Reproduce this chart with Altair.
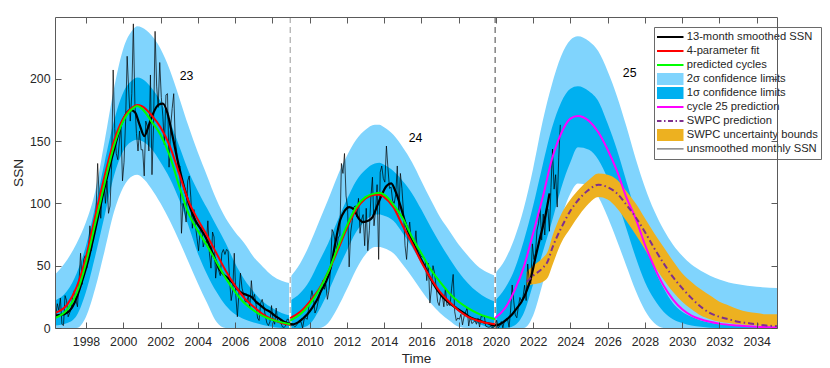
import altair as alt
import pandas as pd

FONT = "Liberation Sans"
TXT = "#262626"
LIGHT = "#80D4FD"
DARK = "#00B0F0"
ORANGE = "#EDB120"
PURPLE = "#7E2F8E"
RED = "#FF0000"
GREEN = "#00FF00"
MAGENTA = "#FF00FF"

W, H = 722, 311
X_DOMAIN = [1996.336, 2035.09]
Y_DOMAIN = [0, 249.5]
x_ticks = list(range(1998, 2035, 2))
y_ticks = [0, 50, 100, 150, 200]

cycle_minima = [2008.96, 2019.96]

# ---------------- cycle 23 ----------------
c23_t = [1996.336, 1997.0, 1997.5, 1998.0, 1998.5, 1999.0, 1999.5, 2000.0, 2000.5, 2000.75,
         2001.0, 2001.5, 2002.0, 2002.5, 2003.0, 2003.5, 2004.0, 2004.5, 2005.0, 2005.5,
         2006.0, 2006.5, 2007.0, 2007.5, 2008.0, 2008.5, 2008.96]
c23_hi2 = [43, 55, 68, 85, 110, 150, 192, 224, 239, 242, 241, 235, 224, 207, 185, 162, 141,
           122, 103, 88, 77, 68, 57, 49, 42, 38, 36]
c23_hi1 = [22, 30, 44, 66, 98, 133, 166, 189, 199, 201, 200, 193, 182, 166, 146, 126, 110,
           96, 82, 68, 52, 39, 29, 21, 16, 12, 10]
c23_lo1 = [2, 4, 10, 29, 58, 90, 122, 142, 150, 151, 150, 144, 133, 120, 103, 82, 60, 43,
           29, 18, 11, 7, 4.5, 2.5, 1, 0, 0]
c23_lo2 = [0, 0, 0, 9, 32, 62, 93, 113, 122, 123, 121, 112, 100, 86, 70, 53, 36, 20, 5,
           0, 0, 0, 0, 0, 0, 0, 0]
c23_pred = [8, 15, 28, 52, 84, 116, 146, 166, 176, 178, 176, 166, 155, 138, 114, 92, 78,
            66, 53, 40, 29, 20, 14, 9.5, 6.5, 4.5, 3]
c23_fit = [12, 19, 33, 57, 90, 122, 150, 168, 177, 179, 178, 171, 161, 146, 124, 102, 87,
           74, 60, 46, 34, 24, 17, 11, 7, 4, 2.5]

# ---------------- cycle 24 ----------------
c24_t = [2008.96, 2009.5, 2010.0, 2010.5, 2011.0, 2011.5, 2012.0, 2012.5, 2013.0, 2013.5,
         2013.75, 2014.0, 2014.5, 2015.0, 2015.5, 2016.0, 2016.5, 2017.0, 2017.5, 2018.0,
         2018.5, 2019.0, 2019.5, 2019.96]
c24_hi2 = [41, 52, 67, 85, 103, 122, 138, 151, 159, 163, 163, 161, 155, 145, 133, 118, 103,
           89, 78, 67, 58, 50, 45, 42]
c24_hi1 = [22, 28, 38, 53, 68, 86, 103, 118, 127, 132, 132.5, 131, 126, 118, 108, 95, 81,
           68, 56, 45, 36, 29, 24, 21]
c24_lo1 = [0, 0, 3, 14, 29, 46, 62, 77, 86, 91, 91, 90, 86, 76, 65, 52, 40, 29, 20, 13, 8,
           4, 1, 0]
c24_lo2 = [0, 0, 0, 0, 4, 16, 31, 47, 59, 65, 65, 64, 60, 51, 41, 30, 20, 12, 6, 1, 0, 0,
           0, 0]
c24_pred = [6, 11, 19, 30, 45, 64, 82, 97, 105, 108, 108.5, 107, 99, 88, 73, 60, 47, 37, 28,
            21, 16, 12, 9, 7]
c24_fit = [8, 13, 21, 31, 45, 62, 80, 95, 104, 107, 107, 105, 97, 82, 68, 53, 40, 29, 21,
           14, 9, 6, 4, 3]

# ---------------- cycle 25 ----------------
c25_t = [2019.96, 2020.5, 2021.0, 2021.5, 2022.0, 2022.5, 2023.0, 2023.5, 2024.0, 2024.4,
         2025.0, 2025.5, 2026.0, 2026.5, 2027.0, 2027.5, 2028.0, 2028.5, 2029.0, 2029.5,
         2030.0, 2030.5, 2031.0, 2032.0, 2033.0, 2034.0, 2035.09]
c25_hi2 = [44, 55, 72, 96, 128, 165, 195, 218, 231, 234, 230, 222, 206, 186, 162, 136, 113,
           94, 79, 67, 58, 51, 46, 39, 35, 33, 32]
c25_hi1 = [22, 32, 47, 70, 98, 130, 160, 181, 192, 194, 190, 182, 164, 143, 118, 93, 70,
           48, 32, 20, 13, 9, 6, 3, 2, 1.5, 1]
c25_lo1 = [0, 0, 2, 12, 35, 60, 85, 112, 133, 145, 143, 135, 120, 102, 80, 57, 37, 23, 13,
           7, 4, 2, 1, 0, 0, 0, 0]
c25_lo2 = [0, 0, 0, 0, 10, 35, 62, 88, 108, 116, 114, 105, 89, 70, 50, 30, 14, 4, 0, 0, 0,
           0, 0, 0, 0, 0, 0]
c25_pred = [8, 16, 30, 49, 76, 104, 135, 156, 168, 170, 166, 157, 143, 126, 105, 88, 67, 49,
            34, 23, 15, 10, 7, 3.5, 2, 1, 0.5]

# ---------------- SWPC ----------------
swpc_t = [2021.65, 2022.0, 2022.5, 2022.8, 2023.0, 2023.5, 2024.0, 2024.5, 2025.0, 2025.5,
          2026.0, 2026.5, 2027.0, 2027.5, 2028.0, 2028.5, 2029.0, 2029.5, 2030.0, 2030.5,
          2031.0, 2031.5, 2032.0, 2032.5, 2033.0, 2033.5, 2034.0, 2034.5, 2035.09]
swpc_pred = [37, 42, 48, 54, 63, 80, 94, 104, 111, 115, 113, 108, 99, 89, 77, 64, 52, 41,
             32, 24, 17, 12, 9, 7, 5, 4, 3, 2, 1.5]
swpc_hi = [45, 50, 56, 62, 72, 91, 103, 112, 119, 124, 123, 119, 110, 100, 88, 76, 65, 54,
           44, 37, 31, 26, 21, 18, 15, 13, 12, 11, 11]
swpc_lo = [34, 35, 37, 41, 49, 68, 80, 91, 100, 105, 103, 96, 86, 75, 63, 50, 39, 29, 21,
           15, 10, 7, 5, 4, 3, 2.5, 2, 1.5, 1]

# ---------------- observed SSN ----------------
# 13-month smoothed, quarterly samples starting 1996.38
smoothed_ssn = [
    10, 10.5, 11.5,
    14, 20, 30, 42,
    55, 71, 88, 105,
    121, 136, 150, 163,
    171, 175, 173, 163,
    154, 163, 173, 179,
    180, 172, 155, 137,
    121, 107, 95, 86,
    80, 74, 66, 57,
    48, 43, 40, 36,
    31, 28, 26.5, 25,
    21, 18, 15, 13,
    10, 7.5, 5, 3.5,
    3, 4.5, 7.5, 11,
    16, 22, 30, 37,
    48, 68, 86, 94,
    97, 95, 88, 85,
    86, 89, 98, 107,
    114, 116, 109, 98,
    85, 74, 66, 58,
    51, 43, 36, 30,
    25, 21.5, 18.5, 16,
    13.5, 11, 8.5, 7,
    6, 4.5, 3.5, 2,
    2.5, 4.5, 7.5, 11,
    16, 21, 29, 40,
    57, 73, 88, 108,
]
smoothed_t = [1996.38 + 0.25 * i for i in range(len(smoothed_ssn))]

# unsmoothed monthly mean SSN, starting May 1996
monthly_ssn = [
    9.2, 19.5, 14.2, 24.0, 3.0, 2.0, 26.0, 22.0,
    9.0, 12.0, 16.0, 26.0, 30.0, 22.0, 17.0, 37.0, 60.0, 35.0, 55.0, 58.0,
    48.0, 60.0, 82.0, 62.0, 76.0, 80.0, 95.0, 132.0, 105.0, 88.0, 110.0, 118.0,
    100.0, 118.0, 92.0, 98.0, 130.0, 207.0, 160.0, 140.0, 135.0, 150.0, 162.0, 118.0,
    133.0, 166.0, 218.0, 191.0, 166.0, 188.0, 244.0, 180.0, 156.0, 142.0, 158.0, 143.0,
    143.0, 122.0, 166.0, 162.0, 142.0, 203.0, 123.0, 162.0, 238.0, 194.0, 177.0, 213.0,
    185.0, 170.0, 147.0, 187.0, 188.0, 129.0, 161.0, 176.0, 188.0, 151.0, 140.0, 125.0,
    130.0, 76.0, 100.0, 95.0, 85.0, 118.0, 122.0, 105.0, 80.0, 95.0, 82.0, 72.0,
    62.0, 78.0, 82.0, 65.0, 70.0, 68.0, 86.0, 60.0, 48.0, 77.0, 73.0, 40.0,
    52.0, 46.0, 42.0, 60.0, 63.0, 59.0, 63.0, 62.0, 38.0, 22.0, 30.0, 60.0,
    26.0, 9.0, 28.0, 44.0, 32.0, 27.0, 21.0, 21.0, 26.0, 16.0, 38.0, 23.0,
    27.0, 19.0, 8.0, 6.0, 20.0, 23.0, 17.0, 10.0, 4.0, 2.0, 5.0, 18.0,
    6.0, 3.0, 16.0, 5.0, 5.0, 4.0, 1.0, 0.5, 1.5, 7.0, 7.0, 1.5,
    2.0, 2.5, 1.0, 2.0, 4.0, 5.0, 5.0, 0.0, 7.0, 8.0, 7.0, 17.0,
    22.0, 30.0, 24.0, 12.0, 15.0, 21.0, 26.0, 32.0, 38.0, 31.0, 35.0, 23.0,
    30.0, 48.0, 79.0, 76.0, 69.0, 62.0, 73.0, 74.0, 132.0, 124.0, 140.0, 106.0,
    96.0, 49.0, 77.0, 86.0, 97.0, 98.0, 89.0, 104.0, 76.0, 87.0, 91.0, 66.0,
    96.0, 62.0, 78.0, 105.0, 121.0, 82.0, 94.0, 115.0, 55.0, 125.0, 130.0, 120.0,
    117.0, 146.0, 128.0, 112.0, 113.0, 102.0, 100.0, 107.0, 130.0, 92.0, 124.0, 112.0,
    93.0, 66.0, 55.0, 75.0, 85.0, 70.0, 66.0, 65.0, 78.0, 60.0, 63.0, 58.0,
    57.0, 57.0, 54.0, 38.0, 52.0, 20.0, 32.0, 50.0, 44.0, 33.0, 21.0, 18.0,
    26.0, 26.0, 17.0, 32.0, 18.0, 19.0, 18.0, 32.0, 43.0, 13.0, 6.0, 8.0,
    7.0, 11.0, 2.5, 9.0, 13.0, 16.0, 1.6, 9.0, 3.6, 4.4, 6.0, 3.0,
    7.7, 0.8, 9.4, 9.0, 10.0, 1.5, 0.9, 0.5, 1.1, 0.4, 0.5, 1.5,
    6.2, 0.2, 1.5, 5.2, 0.2, 5.8, 6.1, 7.5, 0.6, 14.4, 34.5, 21.8,
    10.4, 8.2, 17.2, 24.5, 21.2, 25.0, 34.3, 22.0, 51.3, 38.4, 35.7, 67.5,
    55.0, 60.0, 78.5, 84.0, 96.5, 70.5, 91.4, 74.6, 96.0, 95.5, 77.6, 112.8,
    143.6, 111.4, 123.0, 97.0, 137.0, 163.0,
]
monthly_t = [1996 + (4 + i + 0.5) / 12 for i in range(len(monthly_ssn))]

cycle_labels = ["23", "24", "25"]
cycle_label_t = [2003.40, 2015.69, 2027.18]
cycle_label_v = [201.8, 152.4, 204.6]

legend_labels = ["13-month smoothed SSN", "4-parameter fit", "predicted cycles",
                 "2σ confidence limits", "1σ confidence limits", "cycle 25 prediction",
                 "SWPC prediction", "SWPC uncertainty bounds", "unsmoothed monthly SSN"]
legend_colors = ["#000000", RED, GREEN, LIGHT, DARK, MAGENTA, PURPLE, ORANGE, "#000000"]
rect_idx = [3, 4, 7]

# ---------------- frames ----------------
def band_frame(name, t, lo2, lo1, hi1, hi2):
    return pd.DataFrame({"cycle": name, "t": t, "lo2": lo2, "lo1": lo1, "hi1": hi1, "hi2": hi2})

bands = pd.concat([
    band_frame("23", c23_t, c23_lo2, c23_lo1, c23_hi1, c23_hi2),
    band_frame("24", c24_t, c24_lo2, c24_lo1, c24_hi1, c24_hi2),
    band_frame("25", c25_t, c25_lo2, c25_lo1, c25_hi1, c25_hi2),
], ignore_index=True)

fits = pd.concat([
    pd.DataFrame({"cycle": "23", "t": c23_t, "fit": c23_fit, "pred": c23_pred}),
    pd.DataFrame({"cycle": "24", "t": c24_t, "fit": c24_fit, "pred": c24_pred}),
], ignore_index=True)
c25_df = pd.DataFrame({"t": c25_t, "pred": c25_pred})
swpc_df = pd.DataFrame({"t": swpc_t, "pred": swpc_pred, "hi": swpc_hi, "lo": swpc_lo})
smooth_df = pd.DataFrame({"t": smoothed_t, "ssn": smoothed_ssn})
monthly_df = pd.DataFrame({"t": monthly_t, "ssn": monthly_ssn})
minima_df = pd.DataFrame({"t": cycle_minima})
labels_df = pd.DataFrame({"t": cycle_label_t, "v": cycle_label_v, "txt": cycle_labels})
legend_df = pd.DataFrame({"label": legend_labels})

# ---------------- scales / axes ----------------
xs = alt.Scale(domain=X_DOMAIN, nice=False, zero=False)
ys = alt.Scale(domain=Y_DOMAIN, nice=False, zero=False)

axis_common = dict(grid=False, domainColor="#5a5a5a", domainWidth=1, tickColor="#4a4a4a",
                   tickWidth=0.9, zindex=1)

ax_x_main = alt.Axis(values=x_ticks, format="d", title="Time", orient="bottom",
                     domain=True, ticks=False, tickSize=0, labelFont=FONT, labelFontSize=12.3,
                     labelColor=TXT, labelPadding=7, labelFlush=False, labelOverlap=False,
                     titleFont=FONT, titleFontSize=13.5, titleFontWeight="normal",
                     titleColor=TXT, titlePadding=4, **axis_common)
ax_y_main = alt.Axis(values=y_ticks, title="SSN", orient="left", domain=True, ticks=False,
                     tickSize=0, labelFont=FONT, labelFontSize=12.3, labelColor=TXT,
                     labelPadding=5, labelFlush=False, labelOverlap=False, titleFont=FONT,
                     titleFontSize=13.5, titleFontWeight="normal", titleColor=TXT,
                     titlePadding=4, **axis_common)


def tick_axis(orient, values, offset, domain):
    return alt.Axis(orient=orient, values=values, offset=offset, labels=False,
                    domain=domain, ticks=True, tickSize=6, title="", **axis_common)


def X(field, axis=None):
    return alt.X(f"{field}:Q", scale=xs, axis=axis)


def Y(field, axis=None):
    return alt.Y(f"{field}:Q", scale=ys, axis=axis)


band2 = alt.Chart(bands).mark_area(color=LIGHT, interpolate="monotone", clip=True).encode(
    x=X("t", ax_x_main), y=Y("hi2", ax_y_main), y2="lo2:Q", detail="cycle:N")
band1 = alt.Chart(bands).mark_area(color=DARK, interpolate="monotone", clip=True).encode(
    x=X("t", tick_axis("bottom", x_ticks, -H, True)),
    y=Y("hi1", tick_axis("left", y_ticks, -W, True)), y2="lo1:Q", detail="cycle:N")
swpc_band = alt.Chart(swpc_df).mark_area(color=ORANGE, interpolate="monotone", clip=True).encode(
    x=X("t", tick_axis("top", x_ticks, -H, False)),
    y=Y("hi", tick_axis("right", y_ticks, -W, False)), y2="lo:Q")

gap = alt.Chart(minima_df).mark_rule(color="white", strokeWidth=2.2).encode(x=X("t"))
dash_a = alt.Chart(minima_df.iloc[[0]]).mark_rule(color="#9a9a9a", strokeWidth=1,
                                                  strokeDash=[6, 4]).encode(x=X("t"))
dash_b = alt.Chart(minima_df.iloc[[1]]).mark_rule(color="#444444", strokeWidth=1,
                                                  strokeDash=[6, 4]).encode(x=X("t"))

monthly = alt.Chart(monthly_df).mark_line(color="#000000", strokeWidth=0.7, clip=True).encode(
    x=X("t"), y=Y("ssn"))
smooth = alt.Chart(smooth_df).mark_line(color="#000000", strokeWidth=2.2, interpolate="monotone",
                                        clip=True).encode(x=X("t"), y=Y("ssn"))
fit_line = alt.Chart(fits).mark_line(color=RED, strokeWidth=2, interpolate="monotone",
                                     clip=True).encode(x=X("t"), y=Y("fit"), detail="cycle:N")
pred_line = alt.Chart(fits).mark_line(color=GREEN, strokeWidth=2, interpolate="monotone",
                                      clip=True).encode(x=X("t"), y=Y("pred"), detail="cycle:N")
c25_line = alt.Chart(c25_df).mark_line(color=MAGENTA, strokeWidth=2, interpolate="monotone",
                                       clip=True).encode(x=X("t"), y=Y("pred"))
swpc_line = alt.Chart(swpc_df).mark_line(color=PURPLE, strokeWidth=2, strokeDash=[6, 3, 1.5, 3],
                                         interpolate="monotone", clip=True).encode(
    x=X("t"), y=Y("pred"))
cyc_text = alt.Chart(labels_df).mark_text(font=FONT, fontSize=12.3, color="#000000",
                                          align="center", baseline="middle").encode(
    x=X("t"), y=Y("v"), text="txt:N")

# ---------------- legend (merged fill / stroke / shape / dash / width legends) ----------------
RECT_PATH = "M-2.25,-1H2.25V1H-2.25Z"
LINE_PATH = "M-2.25,0H2.25"
fill_range = [c if i in rect_idx else "transparent" for i, c in enumerate(legend_colors)]
stroke_range = ["transparent" if i in rect_idx else c for i, c in enumerate(legend_colors)]
shape_range = [RECT_PATH if i in rect_idx else LINE_PATH for i in range(len(legend_labels))]
dash_range = [[5, 2.5, 1.5, 2.5] if l == "SWPC prediction" else [1, 0] for l in legend_labels]
width_range = [0.8 if l == "unsmoothed monthly SSN" else 2 for l in legend_labels]


def make_legend():
    return alt.Legend(
        title=None, orient="none", legendX=599, legendY=10, padding=3, rowPadding=0,
        clipHeight=13.8, gridAlign="all",
        fillColor="white", strokeColor="#6a6a6a", cornerRadius=0,
        labelFont=FONT, labelFontSize=11.2, labelColor=TXT, labelOffset=9.7, labelLimit=300,
        symbolSize=144, symbolStrokeWidth=2, symbolOffset=6, symbolOpacity=1,
    )


legend_layer = alt.Chart(legend_df).mark_point(filled=True, opacity=0).encode(
    fill=alt.Fill("label:N", scale=alt.Scale(domain=legend_labels, range=fill_range),
                  legend=make_legend()),
    stroke=alt.Stroke("label:N", scale=alt.Scale(domain=legend_labels, range=stroke_range),
                      legend=make_legend()),
    shape=alt.Shape("label:N", scale=alt.Scale(domain=legend_labels, range=shape_range),
                    legend=make_legend()),
    strokeDash=alt.StrokeDash("label:N", scale=alt.Scale(domain=legend_labels, range=dash_range),
                              legend=make_legend()),
    strokeWidth=alt.StrokeWidth("label:N", scale=alt.Scale(type="ordinal", domain=legend_labels,
                                                           range=width_range),
                                legend=make_legend()),
)

chart = alt.layer(
    band2, band1, swpc_band, gap, dash_a, dash_b, monthly, smooth, fit_line, pred_line,
    c25_line, swpc_line, cyc_text, legend_layer,
).resolve_scale(x="independent", y="independent").properties(
    width=W, height=H,
    padding={"left": 47, "top": 9, "right": 45, "bottom": 38},
    autosize=alt.AutoSizeParams(type="none"),
).configure(font=FONT, background="white").configure_view(stroke="transparent")

chart.save("out.html", embed_options={"renderer": "svg", "actions": False})
